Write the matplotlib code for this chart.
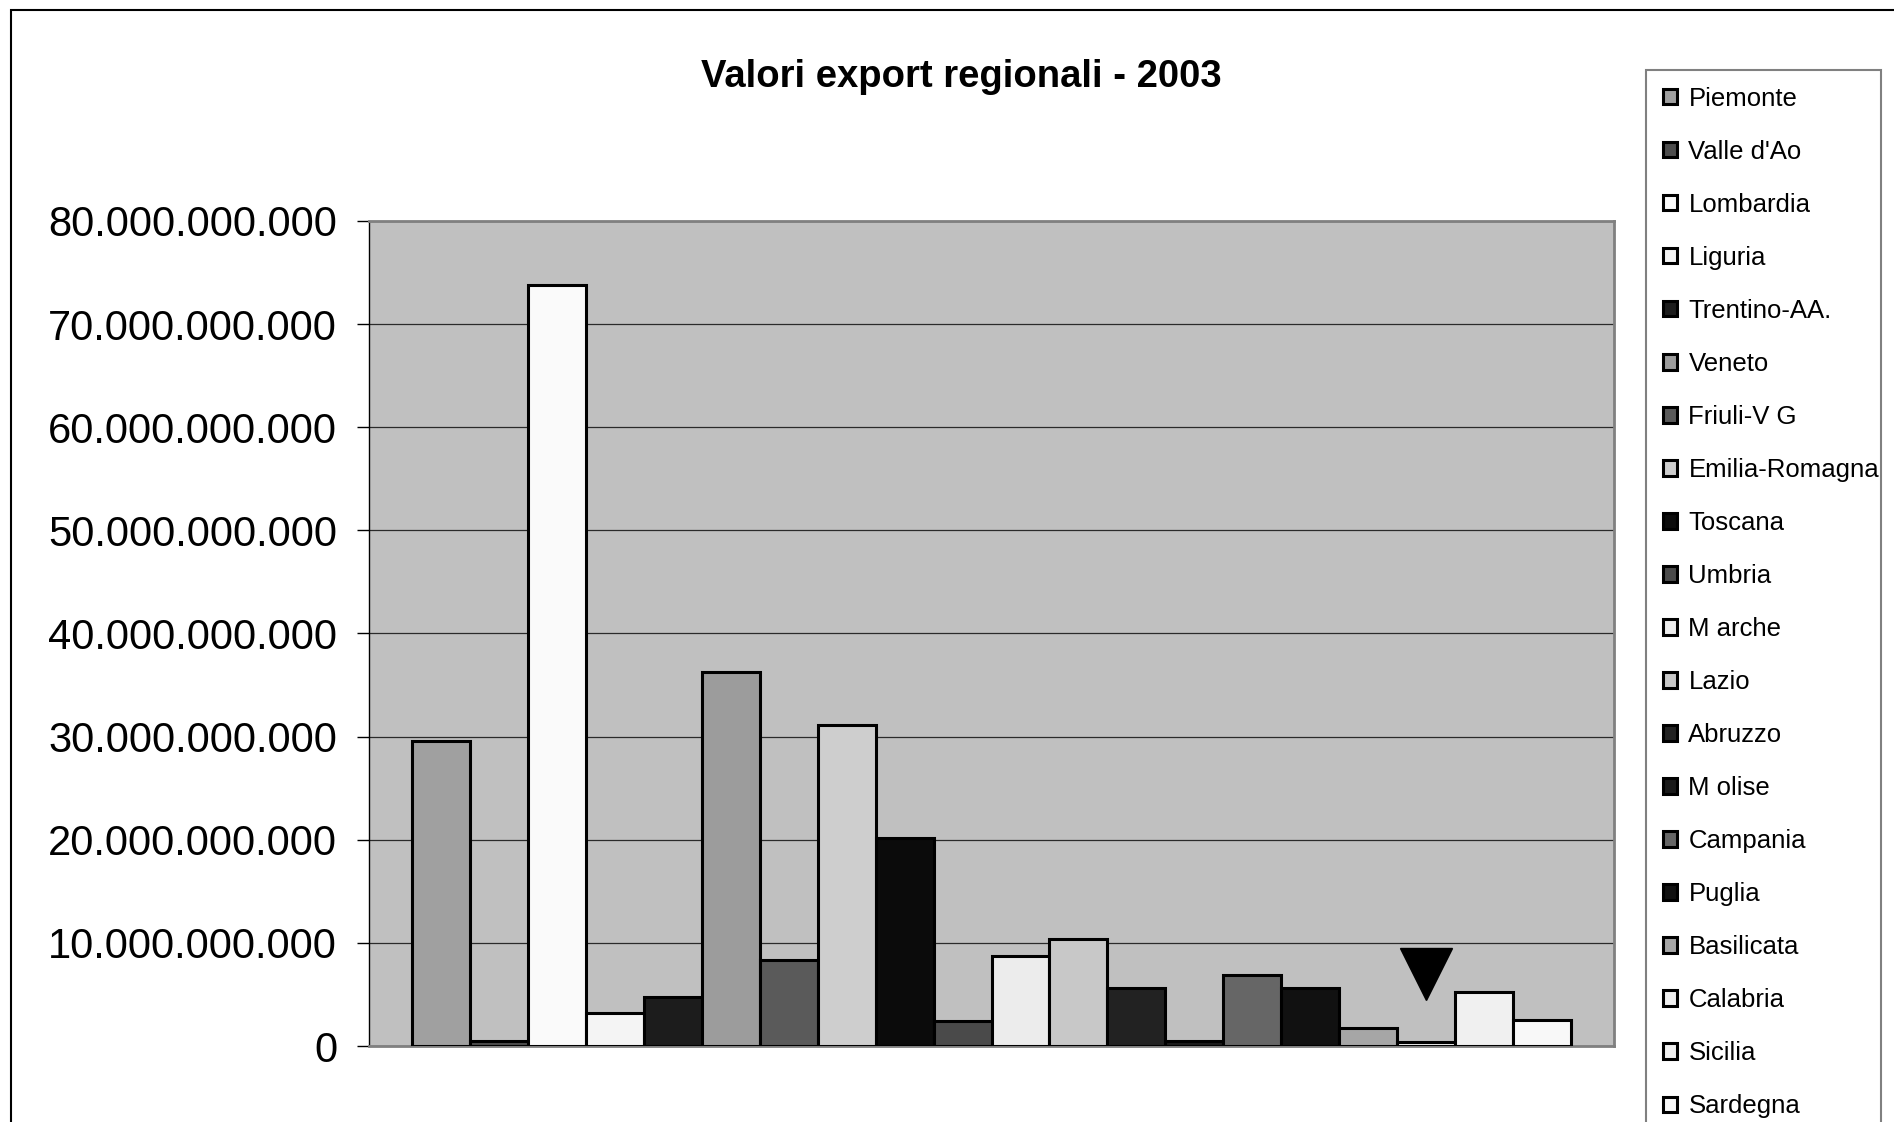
import os
import matplotlib
matplotlib.use('Agg')
import matplotlib.pyplot as plt
from matplotlib import font_manager
from matplotlib.patches import Rectangle
from matplotlib.ticker import MultipleLocator, FuncFormatter

# regioni e valori export 2003 (euro)
regions = ['Piemonte', "Valle d'Ao", 'Lombardia', 'Liguria', 'Trentino-AA.',
           'Veneto', 'Friuli-V G', 'Emilia-Romagna', 'Toscana', 'Umbria',
           'M arche', 'Lazio', 'Abruzzo', 'M olise', 'Campania', 'Puglia',
           'Basilicata', 'Calabria', 'Sicilia', 'Sardegna']
export_2003 = [29.6e9, 0.45e9, 73.8e9, 3.2e9, 4.8e9,
               36.3e9, 8.3e9, 31.1e9, 20.2e9, 2.4e9,
               8.7e9, 10.4e9, 5.6e9, 0.5e9, 6.9e9, 5.6e9,
               1.7e9, 0.4e9, 5.2e9, 2.5e9]
bar_colors = ['#a0a0a0', '#4d4d4d', '#fafafa', '#f4f4f4', '#1c1c1c',
              '#9c9c9c', '#5a5a5a', '#cecece', '#0b0b0b', '#4a4a4a',
              '#ececec', '#c8c8c8', '#222222', '#1a1a1a', '#666666', '#111111',
              '#a6a6a6', '#f0f0f0', '#f0f0f0', '#f8f8f8']

# triangolo nero sopra la Calabria
marker_region = 'Calabria'
marker_value = 7.0e9

plt.rcParams['font.family'] = ['Liberation Sans', 'DejaVu Sans']

# font stretto se c'e', altrimenti Liberation Sans piu' piccolo
files = {os.path.basename(f.fname): f.fname for f in font_manager.fontManager.ttflist}
narrow_reg = files.get('LiberationSansNarrow-Regular.ttf')
narrow_bold = files.get('LiberationSansNarrow-Bold.ttf')
if narrow_reg:
    leg_prop = font_manager.FontProperties(fname=narrow_reg, size=23)
    leg_spacing = 0.8
else:
    leg_prop = font_manager.FontProperties(family='Liberation Sans', size=18.5)
    leg_spacing = 1.13
if narrow_bold:
    title_prop = font_manager.FontProperties(fname=narrow_bold, size=33)
else:
    title_prop = font_manager.FontProperties(family='Liberation Sans', weight='bold', size=27.5)

W, H = 1894, 1122
fig = plt.figure(figsize=(W / 100, H / 100), dpi=100)
ax = fig.add_axes([369 / W, 1 - 1046 / H, (1614 - 369) / W, (1046 - 221) / H])
ax.set_facecolor('#c0c0c0')

handles = []
for i, (name, val, col) in enumerate(zip(regions, export_2003, bar_colors)):
    b = ax.bar(i, val, width=1, color=col, edgecolor='black', linewidth=2.2, label=name, zorder=3)
    handles.append(b)

ax.plot(regions.index(marker_region), marker_value, marker='v', ms=38,
        color='black', linestyle='none', zorder=5)

ax.set_xlim(-1.25, len(regions) - 1 + 1.25)
ax.set_ylim(0, 80e9)
ax.yaxis.set_major_locator(MultipleLocator(10e9))
ax.yaxis.set_major_formatter(FuncFormatter(lambda v, p: f'{v:,.0f}'.replace(',', '.')))
ax.grid(axis='y', color='#2a2a2a', linewidth=0.9, zorder=1)
ax.set_axisbelow(True)
ax.set_xticks([])
ax.tick_params(axis='y', length=9, width=1, pad=14, labelsize=30, direction='out')

for s in ['top', 'right', 'bottom']:
    ax.spines[s].set_color('#808080')
    ax.spines[s].set_linewidth(2)
ax.spines['left'].set_color('black')
ax.spines['left'].set_linewidth(1)

fig.text(961 / W, 1 - 77 / H, 'Valori export regionali - 2003', ha='center', va='center',
         fontproperties=title_prop)

leg = fig.legend(handles=handles, loc='upper left',
                 bbox_to_anchor=(1646 / W, 0, (1881 - 1646) / W, 1 - 70 / H),
                 bbox_transform=fig.transFigure, mode='expand', prop=leg_prop,
                 handlelength=0.55, handleheight=0.55, handletextpad=0.45,
                 borderpad=0.65, labelspacing=leg_spacing, borderaxespad=0,
                 fancybox=False, framealpha=1, edgecolor='#808080')
leg.get_frame().set_linewidth(1.5)

# cornice esterna del grafico
fig.patches.append(Rectangle((11 / W, -0.05), 1.2, 1 - 10 / H + 0.05, transform=fig.transFigure,
                             fill=False, edgecolor='black', linewidth=1.5))

fig.savefig('out.png', dpi=100)
